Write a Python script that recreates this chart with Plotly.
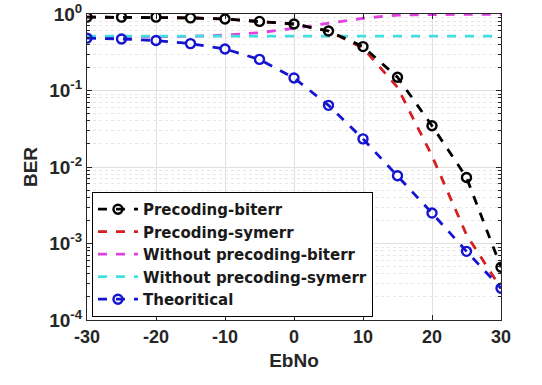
import plotly.graph_objects as go

ebno = [-30, -25, -20, -15, -10, -5, 0, 5, 10, 15, 20, 25, 30]
prec_biterr = [0.91, 0.91, 0.91, 0.89, 0.86, 0.80, 0.74, 0.60, 0.375, 0.149, 0.0346, 0.0073, 0.00049]
prec_symerr = [0.91, 0.91, 0.91, 0.89, 0.86, 0.80, 0.74, 0.60, 0.36, 0.11, 0.014, 0.0013, 0.00026]
noprec_biterr = [0.50, 0.50, 0.50, 0.51, 0.53, 0.57, 0.65, 0.75, 0.88, 0.97, 0.99, 0.99, 0.99]
noprec_symerr = [0.515, 0.515, 0.515, 0.515, 0.515, 0.515, 0.515, 0.515, 0.515, 0.515, 0.515, 0.515, 0.515]
theoretical = [0.484, 0.472, 0.45, 0.41, 0.349, 0.255, 0.146, 0.064, 0.0233, 0.0077, 0.0025, 0.00079, 0.00026]

x_ticks = [-30, -20, -10, 0, 10, 20, 30]
y_tickvals = [1, 0.1, 0.01, 0.001, 0.0001]
y_ticktext = ["10<sup>0</sup>", "10<sup>-1</sup>", "10<sup>-2</sup>", "10<sup>-3</sup>", "10<sup>-4</sup>"]
y_minor = [m * 10 ** e for e in range(-4, 0) for m in range(2, 10)]

lw = 2.8
mk = dict(symbol="circle-open", size=9, line=dict(width=2.4))
fig = go.Figure()
fig.add_trace(go.Scatter(x=ebno, y=prec_symerr, name="Precoding-symerr", mode="lines", legendrank=2,
                         line=dict(color="#d42020", dash="dash", width=lw)))
fig.add_trace(go.Scatter(x=ebno, y=noprec_biterr, name="Without precoding-biterr", mode="lines", legendrank=3,
                         line=dict(color="#e040e0", dash="dash", width=lw)))
fig.add_trace(go.Scatter(x=ebno, y=noprec_symerr, name="Without precoding-symerr", mode="lines", legendrank=4,
                         line=dict(color="#40e0e0", dash="dash", width=lw)))
fig.add_trace(go.Scatter(x=ebno, y=theoretical, name="Theoritical", mode="lines+markers", legendrank=5,
                         line=dict(color="#1414d0", dash="dash", width=lw),
                         marker=dict(mk, color="#1414d0")))
fig.add_trace(go.Scatter(x=ebno, y=prec_biterr, name="Precoding-biterr", mode="lines+markers", legendrank=1,
                         line=dict(color="black", dash="dash", width=lw),
                         marker=dict(mk, color="black")))

font_family = "Liberation Sans, Arial, sans-serif"
axis_col = "#262626"
fig.update_layout(
    width=542, height=385,
    margin=dict(l=87, r=41, t=14, b=65),
    paper_bgcolor="white", plot_bgcolor="white",
    font=dict(family=font_family, color=axis_col),
    showlegend=True,
    legend=dict(x=0.012, y=0.01, xanchor="left", yanchor="bottom",
                bgcolor="white", bordercolor="black", borderwidth=1,
                font=dict(size=15, family="DejaVu Sans, sans-serif", color="#1a1a1a", weight="bold"),
                traceorder="normal", tracegroupgap=0, itemwidth=40),
    xaxis=dict(range=[-30, 30], tickvals=x_ticks, ticktext=[str(v) for v in x_ticks],
               showgrid=True, gridcolor="#e0e0e0", gridwidth=1, automargin=False,
               minor=dict(showgrid=False, ticks=""),
               zeroline=False, showline=True, linecolor=axis_col, linewidth=1, mirror="ticks",
               ticks="inside", ticklen=5, tickcolor=axis_col,
               tickfont=dict(size=18, weight="bold", color=axis_col),
               title=dict(text="EbNo", font=dict(size=19, weight="bold", color=axis_col), standoff=8)),
    yaxis=dict(type="log", range=[-4, 0], tickvals=y_tickvals, ticktext=y_ticktext,
               showgrid=True, gridcolor="#e0e0e0", gridwidth=1, automargin=False,
               zeroline=False, showline=True, linecolor=axis_col, linewidth=1, mirror="ticks",
               ticks="inside", ticklen=5, tickcolor=axis_col,
               tickfont=dict(size=19, weight="bold", color=axis_col),
               minor=dict(tickvals=y_minor, showgrid=True, gridcolor="#e6e6e6", griddash="dot",
                          ticks="inside", ticklen=3, tickcolor=axis_col),
               title=dict(text="BER", font=dict(size=19, weight="bold", color=axis_col), standoff=6)),
)

fig.write_html("out.html", config={"displayModeBar": False},
               post_script="document.body.style.margin='0';document.body.style.overflow='hidden';")
